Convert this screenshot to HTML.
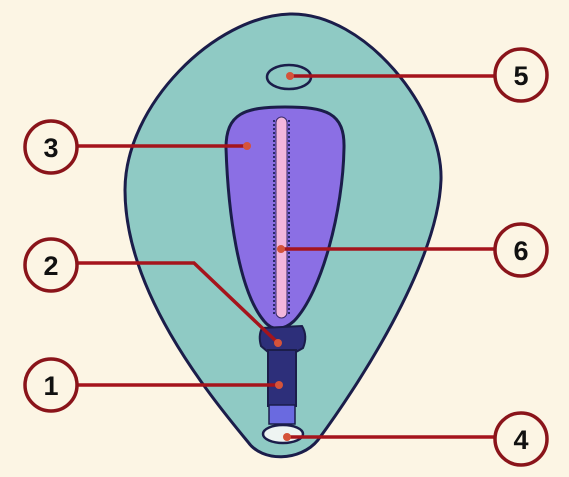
<!DOCTYPE html>
<html><head><meta charset="utf-8"><style>
html,body{margin:0;padding:0;background:#fcf5e4;}
svg{display:block;}
text{font-family:"Liberation Sans",sans-serif;font-weight:bold;font-size:27px;fill:#111;}
</style></head><body>
<svg width="569" height="477" viewBox="0 0 569 477">
<rect width="569" height="477" fill="#fcf5e4"/>
<path d="M290 14 C365 12,443 110,441 180 C438 265,355 390,318 440 C300 462,262 462,248 442 C205 390,125 290,125 190 C125 105,215 16,290 14 Z" fill="#8fcac4" stroke="#1b1d4a" stroke-width="3"/>
<ellipse cx="289" cy="77" rx="22" ry="12" fill="#8fcac4" stroke="#1b1d4a" stroke-width="2.5"/>
<path d="M285 107 C325 107,345 112,344 148 C343 210,322 292,294 321 C283 331,272 331,264 321 C238 290,228 210,226 148 C226 113,245 107,285 107 Z" fill="#8b6fe4" stroke="#1b1d4a" stroke-width="3"/>
<line x1="274" y1="120" x2="274" y2="316" stroke="#2a2a6a" stroke-width="2" stroke-dasharray="2 2"/>
<line x1="289" y1="120" x2="289" y2="316" stroke="#2a2a6a" stroke-width="2" stroke-dasharray="2 2"/>
<rect x="276" y="117" width="11" height="201" rx="5.5" fill="#f3b6dc" stroke="#3a2a6a" stroke-width="1"/>
<path d="M262 328 L302 326 Q308 336,303 348 L296 352 L268 352 L261 346 Q258 336,262 328 Z" fill="#2d2f7a" stroke="#1b1d4a" stroke-width="2"/>
<rect x="268" y="350" width="28" height="56" fill="#2d2f7a" stroke="#1b1d4a" stroke-width="2"/>
<rect x="269" y="405" width="26" height="19" fill="#6a6ae0" stroke="#1b1d4a" stroke-width="1.5"/>
<ellipse cx="283" cy="434" rx="20" ry="9" fill="#eef4f2" stroke="#1b1d4a" stroke-width="2.5"/>
<g stroke="#a5141c" stroke-width="3.5" fill="none">
<line x1="290" y1="76" x2="494" y2="76"/>
<line x1="78" y1="146" x2="247" y2="146"/>
<line x1="281" y1="249" x2="494" y2="249"/>
<polyline points="78,263 194,263 278,343"/>
<line x1="78" y1="385" x2="279" y2="385"/>
<line x1="287" y1="437" x2="494" y2="437"/>
</g>
<g fill="#d4533a">
<circle cx="290" cy="76" r="4"/><circle cx="247" cy="146" r="4"/><circle cx="281" cy="249" r="4"/>
<circle cx="278" cy="343" r="4"/><circle cx="279" cy="385" r="4"/><circle cx="287" cy="437" r="4"/>
</g>
<g><circle cx="521" cy="75" r="26" fill="#fcf5e4" stroke="#8a141a" stroke-width="3.5"/><text x="521" y="85" text-anchor="middle">5</text></g>
<g><circle cx="51" cy="147" r="26" fill="#fcf5e4" stroke="#8a141a" stroke-width="3.5"/><text x="51" y="157" text-anchor="middle">3</text></g>
<g><circle cx="521" cy="250" r="26" fill="#fcf5e4" stroke="#8a141a" stroke-width="3.5"/><text x="521" y="260" text-anchor="middle">6</text></g>
<g><circle cx="51" cy="265" r="26" fill="#fcf5e4" stroke="#8a141a" stroke-width="3.5"/><text x="51" y="275" text-anchor="middle">2</text></g>
<g><circle cx="51" cy="385" r="26" fill="#fcf5e4" stroke="#8a141a" stroke-width="3.5"/><text x="51" y="395" text-anchor="middle">1</text></g>
<g><circle cx="521" cy="439" r="26" fill="#fcf5e4" stroke="#8a141a" stroke-width="3.5"/><text x="521" y="449" text-anchor="middle">4</text></g>
</svg>
</body></html>
